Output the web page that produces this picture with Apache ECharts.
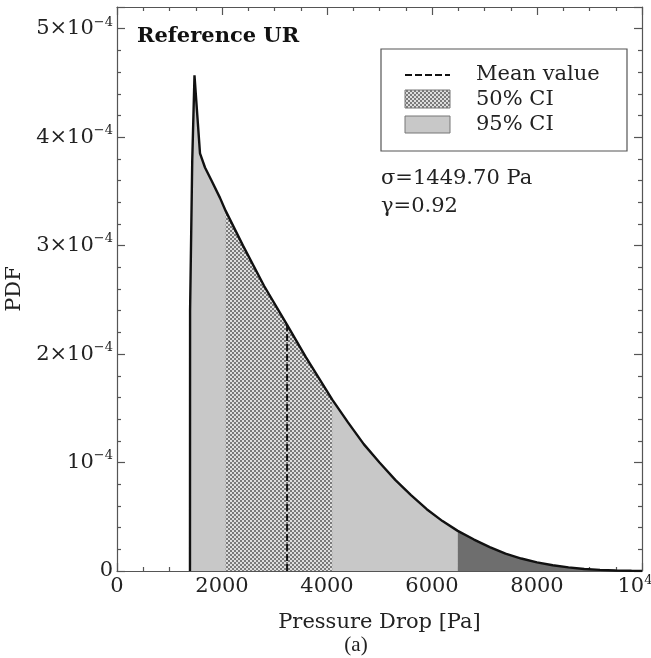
<!DOCTYPE html>
<html>
<head>
<meta charset="utf-8">
<script src="https://cdn.jsdelivr.net/npm/echarts@6/dist/echarts.min.js"></script>
<style>html,body{margin:0;padding:0;background:#fff;}#c{width:651px;height:658px;}</style>
</head>
<body>
<div id="c"></div>
<script>
// ---- data ----
const pressure = [1390, 1392, 1433, 1476, 1530, 1581, 1676, 1800, 1962, 2070, 2400, 2800, 3240, 3600, 4100, 4400, 4700, 5000, 5300, 5600, 5900, 6200, 6490, 6800, 7100, 7400, 7700, 8000, 8300, 8600, 8900, 9200, 9500, 9800, 10000];
const pdf = [0, 2.40e-4, 3.78e-4, 4.57e-4, 4.20e-4, 3.85e-4, 3.72e-4, 3.60e-4, 3.44e-4, 3.32e-4, 3.00e-4, 2.63e-4, 2.27e-4, 1.97e-4, 1.58e-4, 1.37e-4, 1.17e-4, 1.00e-4, 0.84e-4, 0.70e-4, 0.57e-4, 0.46e-4, 0.37e-4, 0.29e-4, 0.22e-4, 0.16e-4, 0.115e-4, 0.08e-4, 0.053e-4, 0.033e-4, 0.019e-4, 0.010e-4, 0.005e-4, 0.002e-4, 0.001e-4];
const meanValue = 3240;
const ci50 = [2070, 4100];
const ci95 = [1390, 6490];
const xTicks = [0, 2000, 4000, 6000, 8000, 10000];
const yTicks = [0, 1e-4, 2e-4, 3e-4, 4e-4, 5e-4];
const legendLabels = ['Mean value', '50% CI', '95% CI'];
const panelTitle = 'Reference UR';
const statsText = ['σ=1449.70 Pa', 'γ=0.92'];

const FONT = 'DejaVu Serif';
function seg(lo, hi) {
  const out = [];
  for (let i = 0; i < pressure.length; i++) {
    if (pressure[i] >= lo && pressure[i] <= hi) out.push([pressure[i], pdf[i]]);
  }
  return out;
}
const curve = pressure.map((p, i) => [p, pdf[i]]);
const meanY = pdf[pressure.indexOf(meanValue)];

// dotted pattern for 50% CI
function makePattern() {
  const c = document.createElement('canvas');
  c.width = 4; c.height = 4;
  const g = c.getContext('2d');
  g.fillStyle = '#dedede'; g.fillRect(0, 0, 4, 4);
  g.fillStyle = '#7a7a7a';
  g.fillRect(0, 0, 2, 2);
  g.fillRect(2, 2, 2, 2);
  return c;
}
const pat = makePattern();

const rich = {
  b: { fontSize: 21, fontFamily: FONT, color: '#222', lineHeight: 26 },
  s: { fontSize: 13, fontFamily: FONT, color: '#222', lineHeight: 13, verticalAlign: 'top' },
  e: { fontSize: 13, fontFamily: FONT, color: '#222', lineHeight: 13, verticalAlign: 'top', padding: [0, 14, 0, 0] }
};
function yfmt(v) {
  const r = v / 1e-4;
  const n = Math.round(r);
  if (Math.abs(r - n) > 1e-6 || n > 5) return '';
  if (n === 0) return '{b|0}';
  if (n === 1) return '{b|10}{s|−4}';
  return '{b|' + n + '×10}{s|−4}';
}
function xfmt(v) {
  if (v === 10000) return '{b|10}{e|4}';
  return '{b|' + v + '}';
}

const axisLineStyle = { color: '#555', width: 1.2 };
const chart = echarts.init(document.getElementById('c'), null, { renderer: 'canvas' });
const L = 117, R = 642, T = 7, B = 571;

function frameAxis(extra) {
  return Object.assign({
    axisLine: { show: true, onZero: false, lineStyle: axisLineStyle },
    axisTick: { show: true, inside: true, length: 8, lineStyle: axisLineStyle },
    splitLine: { show: false }
  }, extra);
}
const TXT = '21px "DejaVu Serif"';

chart.setOption({
  animation: false,
  backgroundColor: '#fff',
  grid: { left: L, right: 651 - R, top: T, bottom: 658 - B, containLabel: false, outerBoundsMode: 'none' },
  xAxis: [frameAxis({
    type: 'value', min: 0, max: 10000, interval: 2000, position: 'bottom',
    minorTick: { show: true, splitNumber: 4, length: 4, lineStyle: axisLineStyle },
    axisLabel: { margin: 3, formatter: xfmt, rich: rich, showMaxLabel: true, showMinLabel: true },
    name: 'Pressure Drop [Pa]', nameLocation: 'middle', nameGap: 41,
    nameTextStyle: { fontFamily: FONT, fontSize: 21, color: '#222' }
  }), frameAxis({
    type: 'value', min: 0, max: 10000, interval: 2000, position: 'top',
    minorTick: { show: true, splitNumber: 4, length: 4, lineStyle: axisLineStyle },
    axisLabel: { show: false }
  })],
  yAxis: [frameAxis({
    type: 'value', min: 0, max: 5.2e-4, interval: 1e-4, position: 'left',
    minorTick: { show: true, splitNumber: 5, length: 4, lineStyle: axisLineStyle },
    axisLabel: { margin: 4, formatter: yfmt, rich: rich },
    name: 'PDF', nameLocation: 'middle', nameGap: 88, nameRotate: 90,
    nameTextStyle: { fontFamily: FONT, fontSize: 21, color: '#222' }
  }), frameAxis({
    type: 'value', min: 0, max: 5.2e-4, interval: 1e-4, position: 'right',
    minorTick: { show: true, splitNumber: 5, length: 4, lineStyle: axisLineStyle },
    axisLabel: { show: false }
  })],
  series: [
    { type: 'line', name: '95% CI', data: seg(ci95[0], ci95[1]), showSymbol: false, z: 1,
      lineStyle: { width: 0 }, areaStyle: { color: '#c8c8c8', opacity: 1 } },
    { type: 'line', name: 'tail', data: seg(ci95[1], 10000), showSymbol: false, z: 1,
      lineStyle: { width: 0 }, areaStyle: { color: '#6e6e6e', opacity: 1 } },
    { type: 'line', name: '50% CI', data: seg(ci50[0], ci50[1]), showSymbol: false, z: 2,
      lineStyle: { width: 0 }, areaStyle: { color: { image: pat, repeat: 'repeat' }, opacity: 1 } },
    { type: 'line', name: 'curve', data: curve, showSymbol: false, z: 3,
      lineStyle: { color: '#111', width: 2.4 } },
    { type: 'line', name: 'Mean value', data: [[meanValue, 0], [meanValue, meanY]], showSymbol: false, z: 4,
      lineStyle: { color: '#111', width: 2, type: [7, 3] } },
    { type: 'line', name: 'frame', xAxisIndex: 1, yAxisIndex: 1, data: [], showSymbol: false }
  ],
  graphic: [
    { type: 'text', x: 137, y: 37, style: { text: panelTitle, font: 'bold 21px "DejaVu Serif"', fill: '#111', verticalAlign: 'middle' } },
    { type: 'rect', shape: { x: 381, y: 49, width: 246, height: 102 }, style: { fill: '#fff', stroke: '#555', lineWidth: 1.2 }, z: 10 },
    { type: 'line', shape: { x1: 405, y1: 75, x2: 450, y2: 75 }, style: { stroke: '#111', lineWidth: 2, lineDash: [7, 3] }, z: 11 },
    { type: 'rect', shape: { x: 405, y: 90, width: 45, height: 18 }, style: { fill: { image: pat, repeat: 'repeat' }, stroke: '#777', lineWidth: 1 }, z: 11 },
    { type: 'rect', shape: { x: 405, y: 116, width: 45, height: 17 }, style: { fill: '#c8c8c8', stroke: '#777', lineWidth: 1 }, z: 11 },
    { type: 'text', x: 476, y: 75, style: { text: legendLabels[0], font: TXT, fill: '#222', verticalAlign: 'middle' }, z: 11 },
    { type: 'text', x: 476, y: 100, style: { text: legendLabels[1], font: TXT, fill: '#222', verticalAlign: 'middle' }, z: 11 },
    { type: 'text', x: 476, y: 125, style: { text: legendLabels[2], font: TXT, fill: '#222', verticalAlign: 'middle' }, z: 11 },
    { type: 'text', x: 381, y: 179, style: { text: statsText[0], font: TXT, fill: '#222', verticalAlign: 'middle' }, z: 11 },
    { type: 'text', x: 381, y: 207, style: { text: statsText[1], font: TXT, fill: '#222', verticalAlign: 'middle' }, z: 11 },
    { type: 'text', x: 356, y: 645, style: { text: '(a)', font: '21px "Liberation Serif"', fill: '#222', align: 'center', verticalAlign: 'middle' } }
  ]
});
</script>
</body>
</html>
